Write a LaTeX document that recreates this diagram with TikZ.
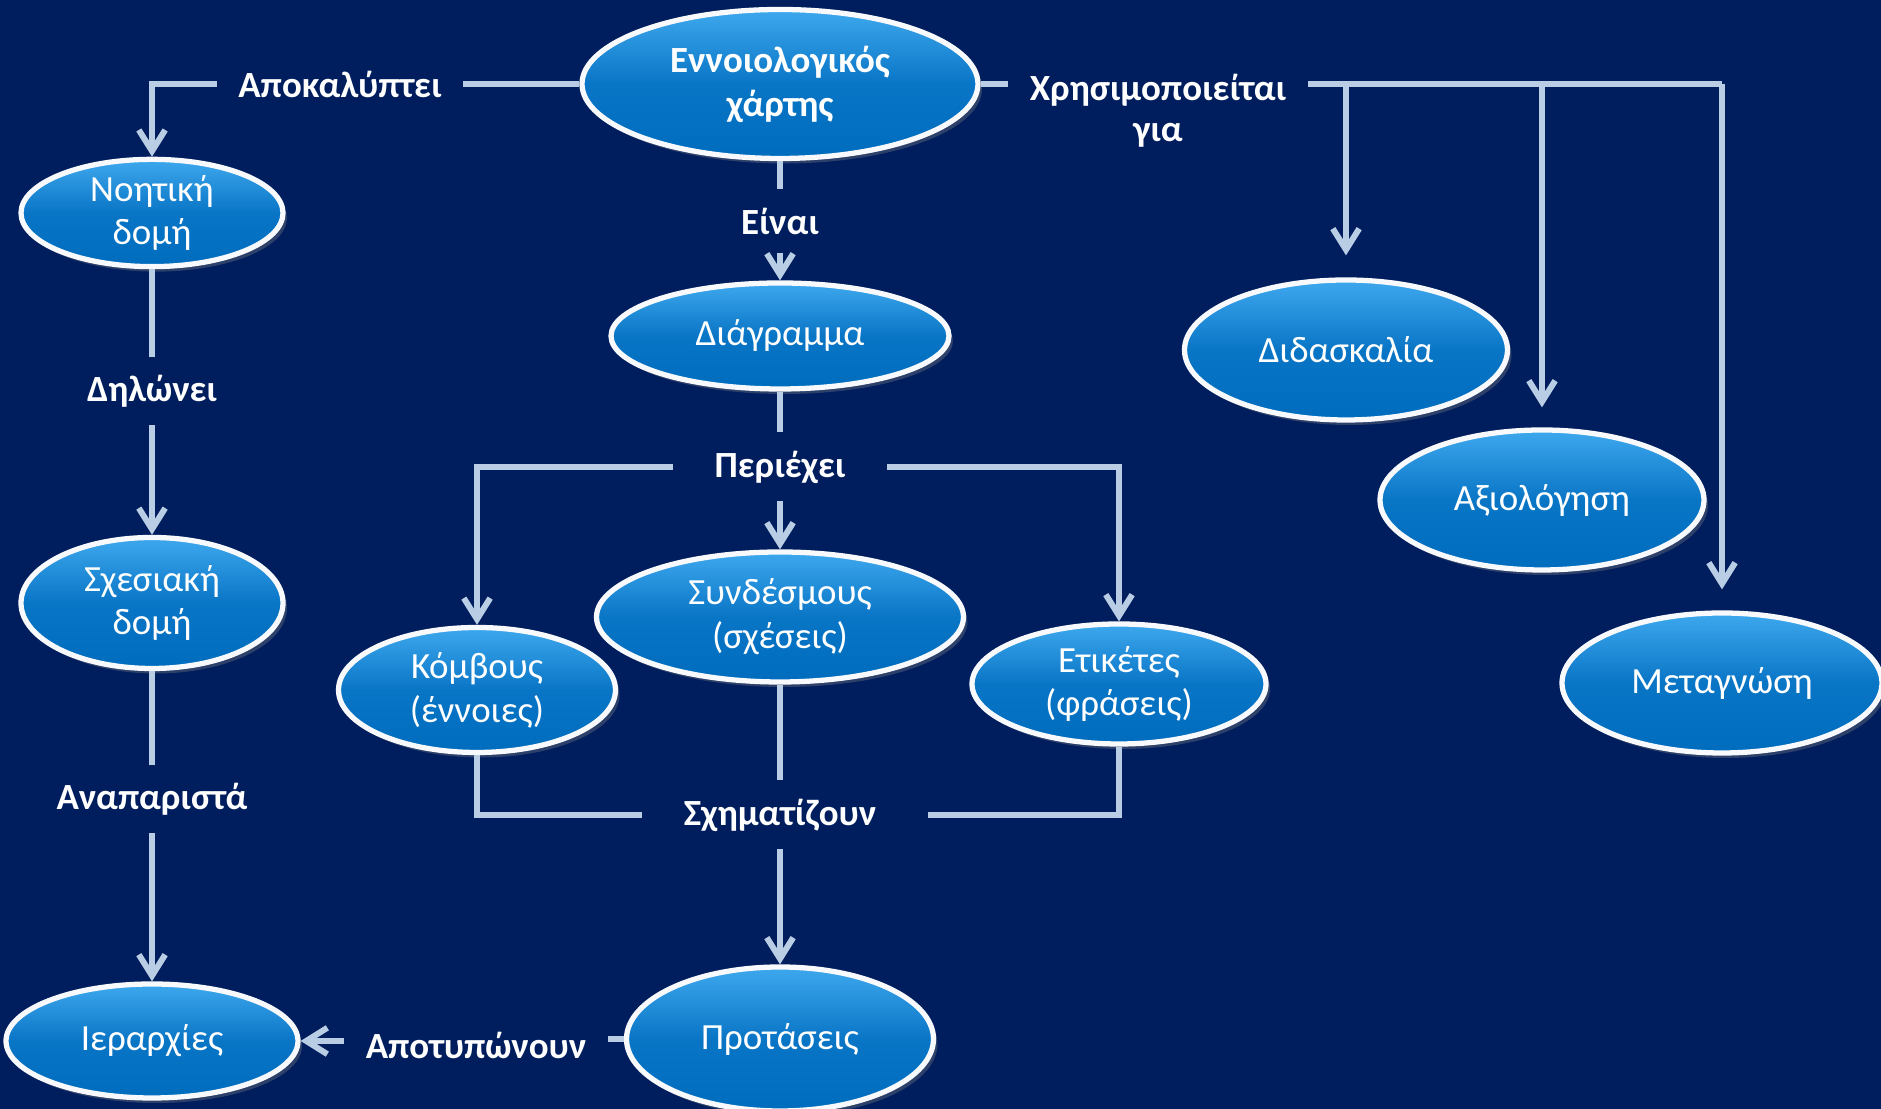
\documentclass[tikz,border=0pt]{standalone}
\usepackage{fontspec}
\setmainfont{Carlito}
\usepackage{tikz}
\usetikzlibrary{shapes.geometric,arrows.meta,shadows}
\definecolor{NavyBack}{RGB}{0,30,94}
\definecolor{LinkGray}{RGB}{185,205,229}
\definecolor{BlueTop}{RGB}{62,168,238}
\definecolor{BlueBottom}{RGB}{0,108,190}

\begin{document}
\begin{tikzpicture}[
  concept/.style={ellipse, inner sep=0pt, draw=white!88!LinkGray, line width=1.5pt,
    top color=BlueTop, bottom color=BlueBottom, middle color=BlueBottom!85!BlueTop,
    text=white, align=center, font=\fontsize{10.5}{12.5}\selectfont,
    drop shadow={opacity=0.35, shadow xshift=0.04cm, shadow yshift=-0.05cm}},
  relation/.style={text=white, align=center, inner xsep=6pt, inner ysep=5pt,
    font=\fontsize{10.5}{12.5}\selectfont\bfseries},
  link/.style={LinkGray, line width=1.7pt},
  linkarrow/.style={link, -{Straight Barb[length=6pt, width=7.5pt, line width=1.7pt]}}
]

% Background
\fill[NavyBack] (0,0) rectangle (18.81,11.09);
\useasboundingbox (0,0) rectangle (18.81,11.09);

% Concepts
\node[concept, minimum width=3.96cm, minimum height=1.49cm] (map) at (7.80,10.25) {\textbf{Εννοιολογικός}\\\textbf{χάρτης}};
\node[concept, minimum width=2.62cm, minimum height=1.07cm] (noit) at (1.52,8.96) {Νοητική\\δομή};
\node[concept, minimum width=2.62cm, minimum height=1.31cm] (sxes) at (1.52,5.06) {Σχεσιακή\\δομή};
\node[concept, minimum width=2.92cm, minimum height=1.14cm] (ierar) at (1.52,0.68) {Ιεραρχίες};
\node[concept, minimum width=3.38cm, minimum height=1.06cm] (diag) at (7.80,7.73) {Διάγραμμα};
\node[concept, minimum width=2.77cm, minimum height=1.25cm] (komv) at (4.77,4.19) {Κόμβους\\(έννοιες)};
\node[concept, minimum width=3.67cm, minimum height=1.30cm] (synd) at (7.80,4.92) {Συνδέσμους\\(σχέσεις)};
\node[concept, minimum width=2.94cm, minimum height=1.20cm] (etik) at (11.19,4.25) {Ετικέτες\\(φράσεις)};
\node[concept, minimum width=3.07cm, minimum height=1.44cm] (prot) at (7.80,0.70) {Προτάσεις};
\node[concept, minimum width=3.23cm, minimum height=1.40cm] (didas) at (13.46,7.59) {Διδασκαλία};
\node[concept, minimum width=3.24cm, minimum height=1.40cm] (axiol) at (15.42,6.09) {Αξιολόγηση};
\node[concept, minimum width=3.20cm, minimum height=1.40cm] (metag) at (17.22,4.26) {Μεταγνώση};

% Relations
\node[relation] (apok) at (3.40,10.25) {Αποκαλύπτει};
\node[relation, anchor=north] (xrisi) at (11.58,10.53) {Χρησιμοποιείται\\[-1pt]για};
\node[relation] (einai) at (7.80,8.88) {Είναι};
\node[relation] (dilon) at (1.52,7.18) {Δηλώνει};
\node[relation] (perie) at (7.80,6.42) {Περιέχει};
\node[relation] (anapa) at (1.52,3.10) {Αναπαριστά};
\node[relation] (sxima) at (7.80,2.94) {Σχηματίζουν};
\node[relation] (apotyp) at (4.76,0.64) {Αποτυπώνουν};

% Left column
\draw[link] (map.west) -- (apok.east);
\draw[linkarrow] (apok.west) -| (noit.north);
\draw[link] (noit.south) -- (dilon.north);
\draw[linkarrow] (dilon.south) -- (sxes.north);
\draw[link] (sxes.south) -- (anapa.north);
\draw[linkarrow] (anapa.south) -- (ierar.north);

% Uses
\draw[link] (map.east) -- (xrisi.west |- map.east);
\draw[link] (xrisi.east |- map.east) -- (metag.north |- map.east);
\draw[linkarrow, shorten >=0.22cm] (didas.north |- map.east) -- (didas.north);
\draw[linkarrow, shorten >=0.2cm] (axiol.north |- map.east) -- (axiol.north);
\draw[linkarrow, shorten >=0.21cm] (metag.north |- map.east) -- (metag.north);

% Middle column
\draw[link] (map.south) -- (einai.north);
\draw[linkarrow] (einai.south) -- (diag.north);
\draw[link] (diag.south) -- (perie.north);
\draw[linkarrow] (perie.south) -- (synd.north);
\draw[linkarrow, shorten <=0.2cm] (perie.west) -| (komv.north);
\draw[linkarrow, shorten <=0.2cm] (perie.east) -| (etik.north);
\draw[link, shorten >=0.2cm] (komv.south) |- (sxima.west);
\draw[link] (synd.south) -- (sxima.north);
\draw[link, shorten >=0.3cm] (etik.south) |- (sxima.east);
\draw[linkarrow] (sxima.south) -- (prot.north);
\draw[link] (prot.west) -- (apotyp.east |- prot.west);
\draw[linkarrow] (apotyp.west |- ierar.east) -- (ierar.east);

\end{tikzpicture}
\end{document}
